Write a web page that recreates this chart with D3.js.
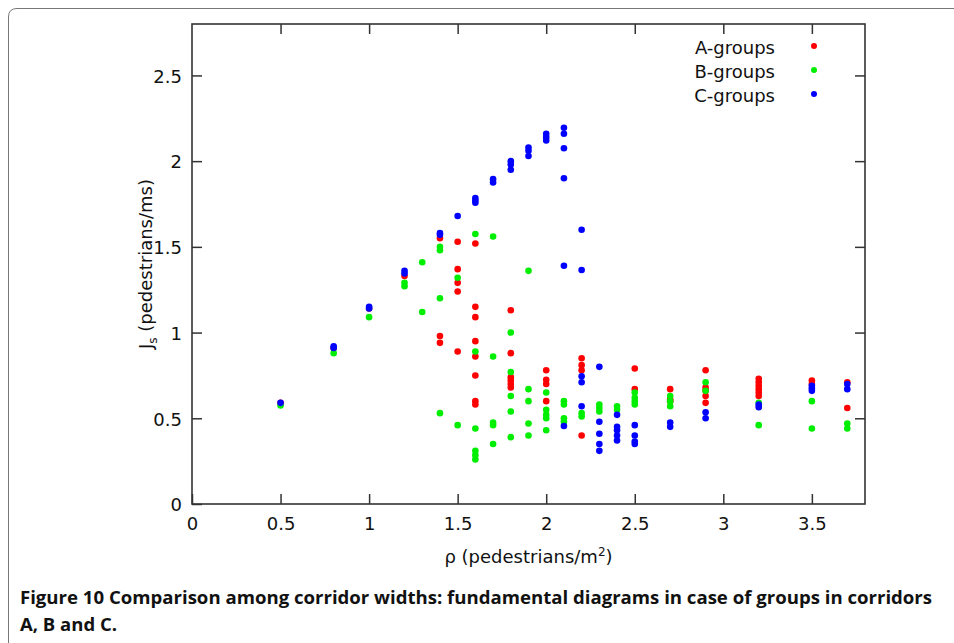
<!DOCTYPE html>
<html><head><meta charset="utf-8">
<script src="https://cdn.jsdelivr.net/npm/d3@7"></script>
<style>
html,body{margin:0;padding:0;background:#fff;}
svg{display:block;}
</style></head>
<body>
<svg id="chart" width="954" height="643"></svg>
<script>
// ---- data ----
const seriesNames = ["A-groups", "B-groups", "C-groups"];
const seriesColors = ["#ff0000", "#00ee00", "#0000ff"];
const groupA = [
  [0.5,0.59],[0.8,0.91],[1.0,1.14],[1.2,1.33],
  [1.4,1.55],[1.4,0.98],[1.4,0.94],
  [1.5,1.53],[1.5,1.37],[1.5,1.29],[1.5,1.24],[1.5,0.89],
  [1.6,1.52],[1.6,1.15],[1.6,1.09],[1.6,0.95],[1.6,0.86],[1.6,0.75],[1.6,0.60],[1.6,0.58],
  [1.8,1.13],[1.8,0.88],[1.8,0.74],[1.8,0.72],[1.8,0.70],[1.8,0.68],
  [2.0,0.78],[2.0,0.725],[2.0,0.70],[2.0,0.60],
  [2.2,0.85],[2.2,0.81],[2.2,0.78],[2.2,0.40],
  [2.5,0.79],[2.5,0.67],
  [2.7,0.67],[2.7,0.61],[2.7,0.60],
  [2.9,0.78],[2.9,0.68],[2.9,0.66],[2.9,0.63],[2.9,0.59],
  [3.2,0.73],[3.2,0.71],[3.2,0.69],[3.2,0.67],[3.2,0.65],[3.2,0.63],
  [3.5,0.72],[3.5,0.70],
  [3.7,0.71],[3.7,0.56]
];
const groupB = [
  [0.5,0.575],[0.8,0.88],[1.0,1.09],
  [1.2,1.29],[1.2,1.27],
  [1.3,1.41],[1.3,1.12],
  [1.4,1.50],[1.4,1.48],[1.4,1.20],[1.4,0.53],
  [1.5,1.32],[1.5,0.46],
  [1.6,1.575],[1.6,0.89],[1.6,0.44],[1.6,0.31],[1.6,0.285],[1.6,0.26],
  [1.7,1.56],[1.7,0.86],[1.7,0.475],[1.7,0.46],[1.7,0.35],
  [1.8,1.00],[1.8,0.77],[1.8,0.63],[1.8,0.54],[1.8,0.39],
  [1.9,1.36],[1.9,0.67],[1.9,0.60],[1.9,0.47],[1.9,0.40],
  [2.0,0.65],[2.0,0.55],[2.0,0.52],[2.0,0.50],[2.0,0.43],
  [2.1,0.60],[2.1,0.58],[2.1,0.50],[2.1,0.48],
  [2.2,0.53],[2.2,0.51],
  [2.3,0.58],[2.3,0.56],[2.3,0.54],
  [2.4,0.57],[2.4,0.55],
  [2.5,0.65],[2.5,0.62],[2.5,0.60],[2.5,0.58],
  [2.7,0.63],[2.7,0.60],[2.7,0.57],
  [2.9,0.71],[2.9,0.66],
  [3.2,0.59],[3.2,0.46],
  [3.5,0.60],[3.5,0.44],
  [3.7,0.47],[3.7,0.44]
];
const groupC = [
  [0.5,0.59],[0.8,0.91],[0.8,0.92],[1.0,1.14],[1.0,1.15],
  [1.2,1.36],[1.2,1.345],
  [1.4,1.58],[1.4,1.57],
  [1.5,1.68],
  [1.6,1.785],[1.6,1.77],[1.6,1.757],
  [1.7,1.895],[1.7,1.875],
  [1.8,2.00],[1.8,1.98],[1.8,1.95],
  [1.9,2.08],[1.9,2.06],[1.9,2.03],
  [2.0,2.16],[2.0,2.14],[2.0,2.12],
  [2.1,2.195],[2.1,2.16],[2.1,2.075],[2.1,1.90],[2.1,1.39],[2.1,0.455],
  [2.2,1.60],[2.2,1.365],[2.2,0.745],[2.2,0.71],[2.2,0.57],
  [2.3,0.80],[2.3,0.48],[2.3,0.41],[2.3,0.35],[2.3,0.31],
  [2.4,0.52],[2.4,0.45],[2.4,0.43],[2.4,0.40],[2.4,0.37],
  [2.5,0.46],[2.5,0.40],[2.5,0.365],[2.5,0.35],
  [2.7,0.475],[2.7,0.45],
  [2.9,0.535],[2.9,0.50],
  [3.2,0.58],[3.2,0.565],
  [3.5,0.69],[3.5,0.675],[3.5,0.66],
  [3.7,0.70],[3.7,0.67]
];
const xTicks = [0, 0.5, 1, 1.5, 2, 2.5, 3, 3.5];
const yTicks = [0, 0.5, 1, 1.5, 2, 2.5];
const xDomain = [0, 3.8];
const yDomain = [0, 2.8];
const captionLines = [
  "Figure 10 Comparison among corridor widths: fundamental diagrams in case of groups in corridors",
  "A, B and C."
];

// ---- layout ----
const svg = d3.select("#chart");
const L = 192, R = 865, T = 24, B = 504;
const x = d3.scaleLinear().domain(xDomain).range([L, R]);
const y = d3.scaleLinear().domain(yDomain).range([B, T]);
const axisColor = "#333";
const tickFont = "DejaVu Sans, Verdana, sans-serif";

// outer figure frame
svg.append("path")
  .attr("d", `M8.5,643 L8.5,17 Q8.5,8.5 17,8.5 L954,8.5`)
  .attr("fill", "none").attr("stroke", "#777").attr("stroke-width", 1);

// axes (gnuplot style, inward ticks mirrored)
const tl = 10;
const axB = d3.axisBottom(x).tickValues(xTicks).tickSize(tl).tickFormat(d3.format("~g"));
const gB = svg.append("g").attr("transform", `translate(0,${B})`).call(axB);
gB.selectAll(".tick line").attr("y2", -tl);
const axT = d3.axisTop(x).tickValues(xTicks.filter(d => d > 0)).tickSize(tl).tickFormat("");
const gT = svg.append("g").attr("transform", `translate(0,${T})`).call(axT);
gT.selectAll(".tick line").attr("y2", tl);
const axL = d3.axisLeft(y).tickValues(yTicks).tickSize(tl).tickFormat(d3.format("~g"));
const gL = svg.append("g").attr("transform", `translate(${L},0)`).call(axL);
gL.selectAll(".tick line").attr("x2", tl);
const axR = d3.axisRight(y).tickValues(yTicks.filter(d => d > 0)).tickSize(tl).tickFormat("");
const gR = svg.append("g").attr("transform", `translate(${R},0)`).call(axR);
gR.selectAll(".tick line").attr("x2", -tl);

[gB, gT, gL, gR].forEach(g => {
  g.select(".domain").remove();
  g.selectAll(".tick line").attr("stroke", axisColor).attr("stroke-width", 1.5);
  g.selectAll(".tick text").attr("fill", "#111").attr("font-family", tickFont).attr("font-size", 18);
});
gB.selectAll(".tick text").attr("y", 0).attr("dy", 0).attr("transform", "translate(0,26)");
gL.selectAll(".tick text").attr("x", -10).attr("dy", "0.38em");

svg.append("rect").attr("x", L).attr("y", T).attr("width", R - L).attr("height", B - T)
  .attr("fill", "none").attr("stroke", axisColor).attr("stroke-width", 1.6);

// points
const allSeries = [groupA, groupB, groupC];
allSeries.forEach((pts, i) => {
  svg.append("g").selectAll("circle").data(pts).join("circle")
    .attr("cx", d => x(d[0])).attr("cy", d => y(d[1]))
    .attr("r", 3.3).attr("fill", seriesColors[i]);
});

// legend
const leg = svg.append("g");
seriesNames.forEach((n, i) => {
  leg.append("text").attr("x", 775).attr("y", 54 + i * 24)
    .attr("text-anchor", "end").attr("font-family", tickFont).attr("font-size", 18)
    .attr("fill", "#111").text(n);
  leg.append("circle").attr("cx", 814).attr("cy", 46 + i * 24).attr("r", 3)
    .attr("fill", seriesColors[i]);
});

// axis titles
const xt = svg.append("text").attr("x", (L + R) / 2).attr("y", 563)
  .attr("text-anchor", "middle").attr("font-family", tickFont).attr("font-size", 18).attr("fill", "#111");
xt.append("tspan").text("ρ (pedestrians/m");
xt.append("tspan").attr("dy", -7).attr("font-size", 12).text("2");
xt.append("tspan").attr("dy", 7).text(")");

const yt = svg.append("text").attr("transform", `translate(152,${(T + B) / 2}) rotate(-90)`)
  .attr("text-anchor", "middle").attr("font-family", tickFont).attr("font-size", 18).attr("fill", "#111");
yt.append("tspan").text("J");
yt.append("tspan").attr("dy", 5).attr("font-size", 12).text("s");
yt.append("tspan").attr("dy", -5).text(" (pedestrians/ms)");

// caption
captionLines.forEach((t, i) => {
  const el = svg.append("text").attr("x", 20).attr("y", 604 + i * 27)
    .attr("font-family", "Open Sans, Noto Sans, sans-serif").attr("font-weight", 700)
    .attr("font-size", 18.5).attr("fill", "#111").text(t);
  if (i === 0) el.attr("textLength", 912).attr("lengthAdjust", "spacingAndGlyphs");
});
</script>
</body></html>
